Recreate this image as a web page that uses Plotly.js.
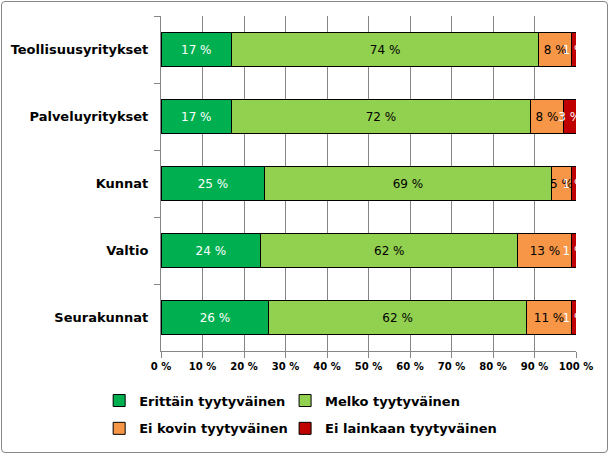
<!DOCTYPE html>
<html>
<head>
<meta charset="utf-8">
<script src="https://cdn.plot.ly/plotly-3.0.1.min.js"></script>
<style>
html,body{margin:0;padding:0;background:#fff;}
#wrap{position:relative;width:611px;height:455px;}
#chart{width:611px;height:455px;}
#frame{position:absolute;left:1px;top:1px;width:605px;height:450px;border:1px solid #868686;border-radius:4px;pointer-events:none;}
</style>
</head>
<body>
<div id="wrap"><div id="chart"></div><div id="frame"></div></div>
<script>
var categories = ["Teollisuusyritykset", "Palveluyritykset", "Kunnat", "Valtio", "Seurakunnat"];
var seriesNames = ["Erittäin tyytyväinen", "Melko tyytyväinen", "Ei kovin tyytyväinen", "Ei lainkaan tyytyväinen"];
var erittain = [17, 17, 25, 24, 26];
var melko = [74, 72, 69, 62, 62];
var eiKovin = [8, 8, 5, 13, 11];
var eiLainkaan = [1, 3, 1, 1, 1];
var colors = ["#00B050", "#92D050", "#F79646", "#C00000"];
var textColors = ["#FFFFFF", "#000000", "#000000", "#FFFFFF"];
var legendIds = ["legend", "legend2", "legend3", "legend4"];
var allSeries = [erittain, melko, eiKovin, eiLainkaan];

var traces = allSeries.map(function(vals, i) {
  return {
    type: "bar",
    orientation: "h",
    name: seriesNames[i],
    legend: legendIds[i],
    y: categories,
    x: vals,
    text: vals.map(function(v){ return v + " %"; }),
    textposition: "inside",
    insidetextanchor: "middle",
    textangle: 0,
    constraintext: "none",
    cliponaxis: true,
    textfont: {family: "DejaVu Sans, Verdana, sans-serif", size: 12, color: textColors[i]},
    marker: {color: colors[i], line: {color: "#000000", width: 1}},
    hoverinfo: "none"
  };
});

var legendFont = {family: "DejaVu Sans, Verdana, sans-serif", size: 13, color: "#000", weight: "bold"};
function mkLegend(x, y) {
  return {
    orientation: "h",
    x: x,
    xanchor: "left",
    y: y,
    yanchor: "middle",
    itemwidth: 30,
    bgcolor: "rgba(0,0,0,0)",
    font: legendFont
  };
}

var layout = {
  width: 611,
  height: 455,
  margin: {l: 161, r: 35, t: 16, b: 101},
  barmode: "stack",
  bargap: 0.48,
  paper_bgcolor: "#ffffff",
  plot_bgcolor: "#ffffff",
  showlegend: true,
  xaxis: {
    range: [0, 100],
    dtick: 10,
    tick0: 0,
    ticksuffix: " %",
    showgrid: true,
    gridcolor: "#868686",
    gridwidth: 1,
    zeroline: false,
    showline: true,
    linecolor: "#868686",
    ticks: "outside",
    ticklen: 6,
    tickcolor: "#868686",
    tickfont: {family: "DejaVu Sans, Verdana, sans-serif", size: 10, color: "#000", weight: "bold"},
    fixedrange: true
  },
  yaxis: {
    type: "category",
    autorange: "reversed",
    showline: true,
    linecolor: "#868686",
    ticks: "outside",
    ticklen: 6,
    tickcolor: "#868686",
    tickson: "boundaries",
    showgrid: false,
    ticksuffix: "  ",
    tickfont: {family: "DejaVu Sans, Verdana, sans-serif", size: 13, color: "#000", weight: "bold"},
    fixedrange: true
  },
  legend: mkLegend(-0.149, -0.148),
  legend2: mkLegend(0.299, -0.148),
  legend3: mkLegend(-0.149, -0.231),
  legend4: mkLegend(0.299, -0.231)
};

Plotly.newPlot("chart", traces, layout, {staticPlot: true, displayModeBar: false});
</script>
</body>
</html>
